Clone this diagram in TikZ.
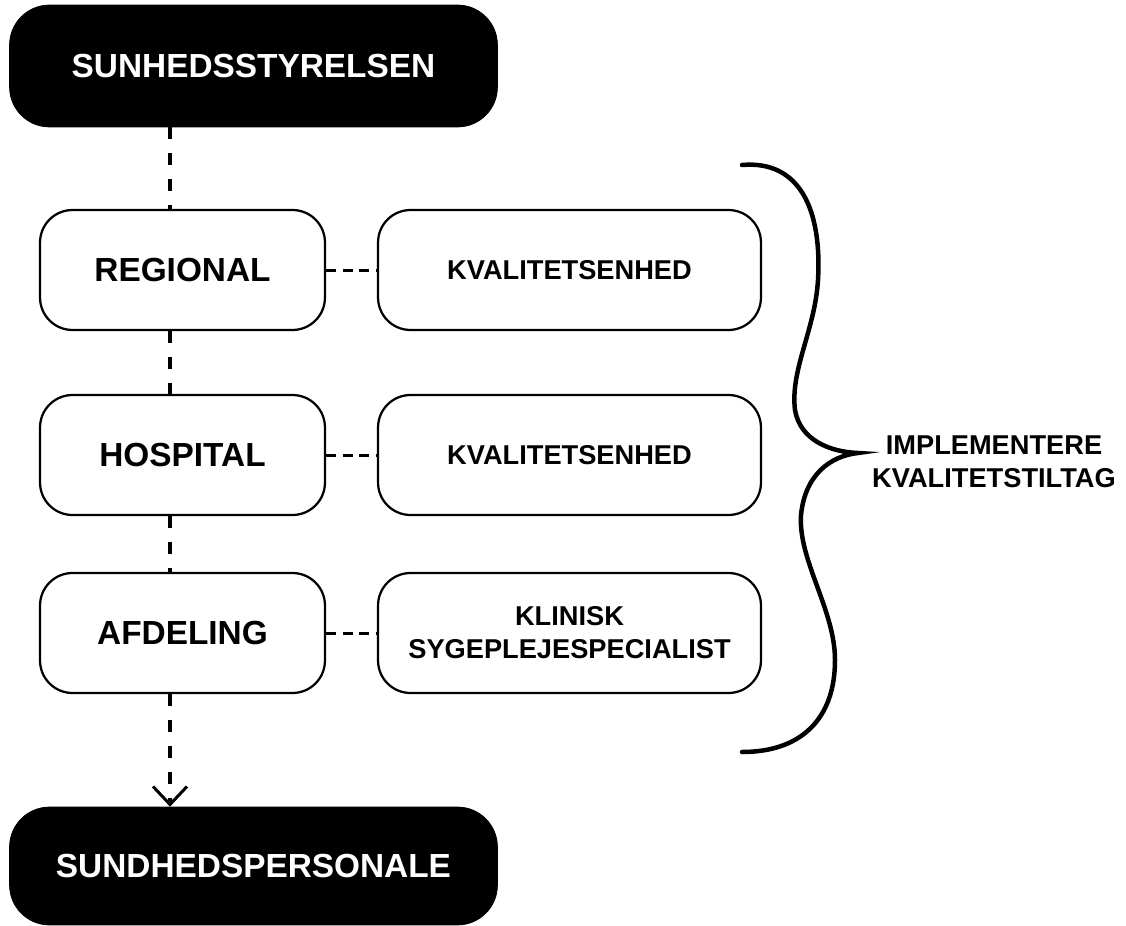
\documentclass[tikz,border=0pt]{standalone}
\usepackage{fontspec}
\setmainfont{Liberation Sans}
\usetikzlibrary{arrows.meta}
\tikzset{
  blackbox/.style={draw=black, fill=black, text=white, rounded corners=8mm, inner sep=0pt,
    minimum width=9.76cm, font=\bfseries\fontsize{19}{23}\selectfont},
  whitebox/.style={draw=black, line width=0.45mm, rounded corners=6.5mm, inner sep=0pt,
    minimum height=2.4cm, align=center},
  bigtxt/.style={font=\bfseries\fontsize{19}{23}\selectfont},
  smalltxt/.style={font=\bfseries\fontsize{15.5}{18.7}\selectfont},
  vdash/.style={line width=0.8mm, dash pattern=on 2.4mm off 2.8mm},
  hdash/.style={line width=0.6mm, dash pattern=on 2mm off 1.3mm},
}
\begin{document}
\begin{tikzpicture}[x=0.02cm, y=-0.02cm]
\useasboundingbox (0,0) rectangle (1126,926);
\coordinate (spine) at (170,0);
% top and bottom
\node[blackbox, minimum height=2.44cm] (styr) at (253.5,66) {SUNHEDSSTYRELSEN};
\node[blackbox, minimum height=2.36cm] (pers) at (253.5,866) {SUNDHEDSPERSONALE};
% levels
\node[whitebox, bigtxt, minimum width=5.7cm] (reg) at (182.5,270) {REGIONAL};
\node[whitebox, bigtxt, minimum width=5.7cm] (hosp) at (182.5,455) {HOSPITAL};
\node[whitebox, bigtxt, minimum width=5.7cm] (afd) at (182.5,633) {AFDELING};
\node[whitebox, smalltxt, minimum width=7.66cm] (kv1) at (569.5,270) {KVALITETSENHED};
\node[whitebox, smalltxt, minimum width=7.66cm] (kv2) at (569.5,455) {KVALITETSENHED};
\node[whitebox, smalltxt, minimum width=7.66cm] (klin) at (569.5,633) {KLINISK\\SYGEPLEJESPECIALIST};
% connectors
\draw[vdash] (styr.south -| spine) -- (reg.north -| spine);
\draw[vdash] (reg.south -| spine) -- (hosp.north -| spine);
\draw[vdash] (hosp.south -| spine) -- (afd.north -| spine);
\draw[vdash, -{Straight Barb[length=3.6mm, width=6.8mm, line width=0.6mm]}] (afd.south -| spine) -- (pers.north -| spine);
\draw[hdash] (reg.east) -- (kv1.west);
\draw[hdash] (hosp.east) -- (kv2.west);
\draw[hdash] (afd.east) -- (klin.west);
% brace
\draw[line width=0.9mm, line cap=round] (742,165) .. controls (800,160) and (822,210) .. (818,280)
  .. controls (815,330) and (790,370) .. (795,410) .. controls (800,440) and (830,452) .. (858,453)
  .. controls (830,456) and (805,475) .. (801,515) .. controls (798,560) and (835,610) .. (835,660)
  .. controls (835,720) and (800,752) .. (742,752);
\node[smalltxt, align=center] (tiltag) at (994,462) {IMPLEMENTERE\\KVALITETSTILTAG};
\end{tikzpicture}
\end{document}
